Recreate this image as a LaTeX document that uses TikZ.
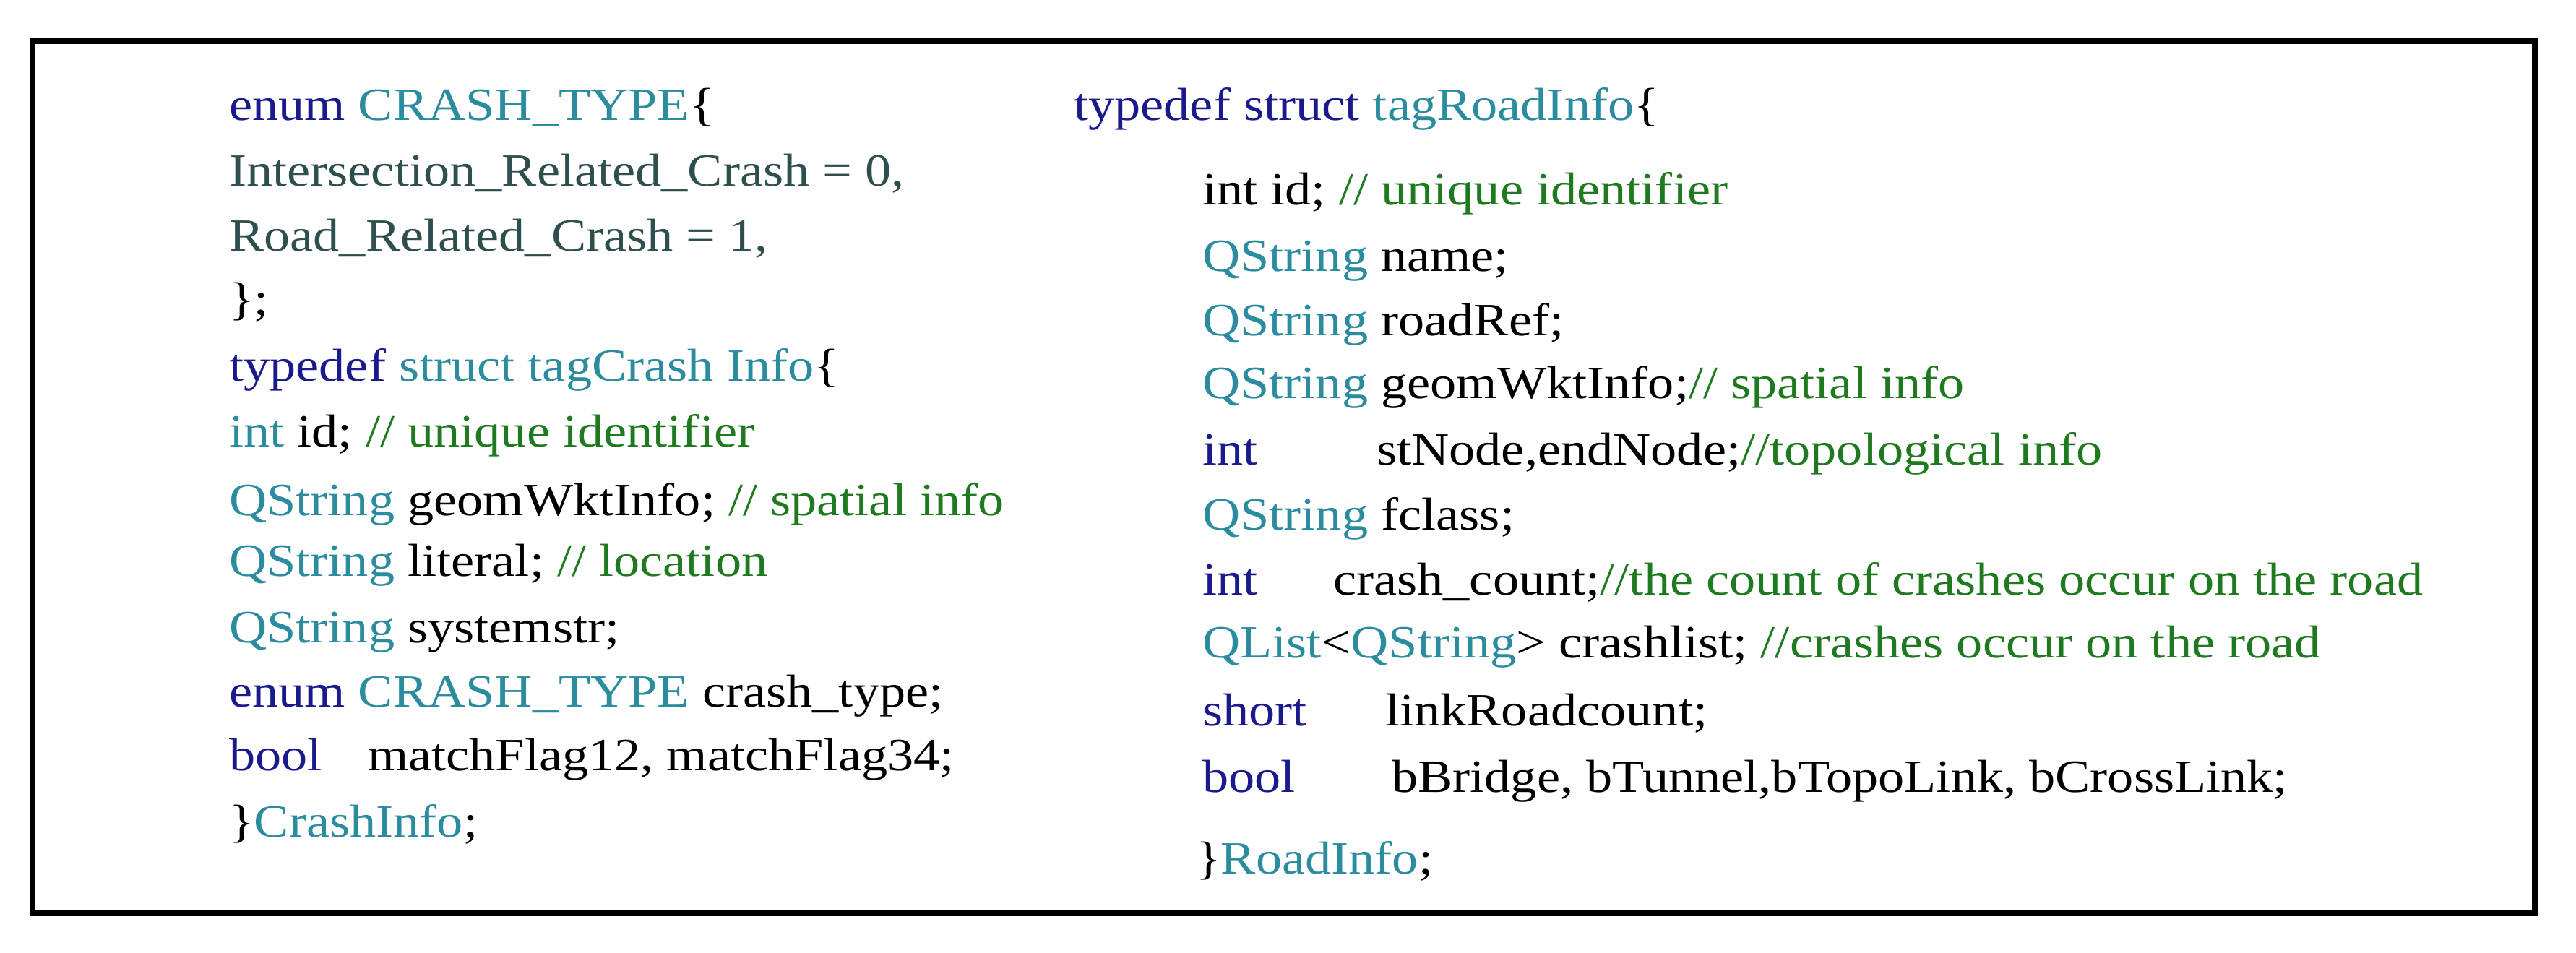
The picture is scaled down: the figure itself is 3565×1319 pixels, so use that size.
\documentclass[tikz,border=0pt]{standalone}
\usepackage{fontspec}
\setmainfont{Liberation Serif}[FakeStretch=1.13]
\definecolor{kw}{HTML}{1A1A8C}
\definecolor{ty}{HTML}{2A8C9E}
\definecolor{cm}{HTML}{1F7A1F}
\definecolor{en}{HTML}{2F4F4F}
\tikzset{code/.style={anchor=base west, inner sep=0pt, font=\fontsize{64}{64}\selectfont}}
\begin{document}
\begin{tikzpicture}[x=1pt,y=-1pt]
\useasboundingbox (0,0) rectangle (3565,1319);
\draw[line width=8pt] (45,57) rectangle (3508,1264);
% left column
\node[code] (l1) at (317,167) {{\color{kw}enum} {\color{ty}CRASH\_TYPE}\{};
\node[code] (l2) at (317,257) {{\color{en}Intersection\_Related\_Crash = 0,}};
\node[code] (l3) at (317,347) {{\color{en}Road\_Related\_Crash = 1,}};
\node[code] (l4) at (317,435) {\};};
\node[code] (l5) at (317,527) {{\color{kw}typedef} {\color{ty}struct tagCrash Info}\{};
\node[code] (l6) at (317,618) {{\color{ty}int} id; {\color{cm}// unique identifier}};
\node[code] (l7) at (317,713) {{\color{ty}QString} geomWktInfo; {\color{cm}// spatial info}};
\node[code] (l8) at (317,797) {{\color{ty}QString} literal; {\color{cm}// location}};
\node[code] (l9) at (317,889) {{\color{ty}QString} systemstr;};
\node[code] (l10) at (317,978) {{\color{kw}enum} {\color{ty}CRASH\_TYPE} crash\_type;};
\node[code] (l11) at (317,1066) {{\color{kw}bool}};
\node[code] (l11b) at (509,1066) {matchFlag12, matchFlag34;};
\node[code] (l12) at (317,1158) {\}{\color{ty}CrashInfo};};
% right column
\node[code] (r1) at (1486,167) {{\color{kw}typedef struct} {\color{ty}tagRoadInfo}\{};
\node[code] (r2) at (1664,283) {int id; {\color{cm}// unique identifier}};
\node[code] (r3) at (1664,375) {{\color{ty}QString} name;};
\node[code] (r4) at (1664,464) {{\color{ty}QString} roadRef;};
\node[code] (r5) at (1664,551) {{\color{ty}QString} geomWktInfo;{\color{cm}// spatial info}};
\node[code] (r6) at (1664,643) {{\color{kw}int}};
\node[code] (r6b) at (1905,643) {stNode,endNode;{\color{cm}//topological info}};
\node[code] (r7) at (1664,733) {{\color{ty}QString} fclass;};
\node[code] (r8) at (1664,823) {{\color{kw}int}};
\node[code] (r8b) at (1845,823) {crash\_count;{\color{cm}//the count of crashes occur on the road}};
\node[code] (r9) at (1664,910) {{\color{ty}QList}<{\color{ty}QString}> crashlist; {\color{cm}//crashes occur on the road}};
\node[code] (r10) at (1664,1004) {{\color{kw}short}};
\node[code] (r10b) at (1917,1004) {linkRoadcount;};
\node[code] (r11) at (1664,1096) {{\color{kw}bool}};
\node[code] (r11b) at (1926,1096) {bBridge, bTunnel,bTopoLink, bCrossLink;};
\node[code] (r12) at (1655,1209) {\}{\color{ty}RoadInfo};};
\end{tikzpicture}
\end{document}
